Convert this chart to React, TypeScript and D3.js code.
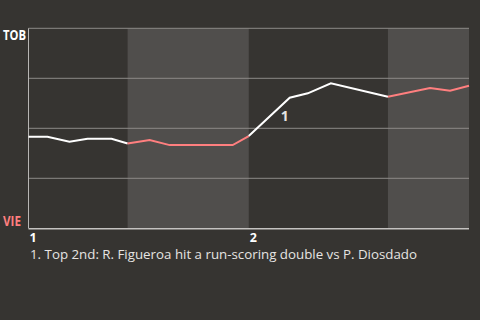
import React from "react";
import * as d3 from "d3";

const W = 480;
const H = 320;

// progress in innings (0 = start of 1st, 1 = start of 2nd)
const progress = [0, 0.086, 0.186, 0.268, 0.377, 0.45, 0.55, 0.641, 0.927, 1.0, 1.186, 1.268, 1.373, 1.632, 1.823, 1.914, 2.0];
// win probability for TOB
const winProb = [0.458, 0.458, 0.433, 0.448, 0.448, 0.424, 0.441, 0.416, 0.416, 0.461, 0.653, 0.675, 0.725, 0.658, 0.702, 0.688, 0.713];
// half-innings: "top" (TOB batting) or "bot" (VIE batting)
const halfStarts = [0, 0.45, 1.0, 1.632];
const halfEnds = [0.45, 1.0, 1.632, 2.0];
const halfSides = ["top", "bot", "top", "bot"];
const inningTicks = [0, 1];
const inningLabels = ["1", "2"];
const gridValues = [0.25, 0.5, 0.75, 1];
const teamTop = "TOB";
const teamBottom = "VIE";
const notePos = [1.145];
const noteVal = [0.535];
const noteLabels = ["1"];
const footnotes = ["1. Top 2nd: R. Figueroa hit a run-scoring double vs P. Diosdado"];

const BG = "#363431";
const SHADE = "#504e4c";
const PINK = "#ff7f7f";
const FONT = "'Open Sans', 'Noto Sans', sans-serif";

export default function App() {
  const left = 28.5;
  const right = 469;
  const top = 28.3;
  const bottom = 228.3;
  const x = d3.scaleLinear().domain([0, 2]).range([left, right]);
  const y = d3.scaleLinear().domain([0, 1]).range([bottom, top]);

  const pts = progress.map((p, i) => ({ p, v: winProb[i] }));
  const line = d3.line<{ p: number; v: number }>().x((d) => x(d.p)).y((d) => y(d.v));

  const segs = halfStarts.map((s, k) => {
    const e = halfEnds[k];
    const seg = pts.filter((d) => d.p >= s - 1e-9 && d.p <= e + 1e-9);
    return { side: halfSides[k], d: line(seg) || "", s, e };
  });

  return (
    <div style={{ position: "fixed", left: 0, top: 0, width: W, height: H, background: BG }}>
      <svg width={W} height={H} style={{ display: "block" }}>
        <rect x={0} y={0} width={W} height={H} fill={BG} />
        {segs
          .filter((s) => s.side === "bot")
          .map((s, i) => (
            <rect key={i} x={x(s.s)} y={top} width={x(s.e) - x(s.s)} height={bottom - top} fill={SHADE} />
          ))}
        {gridValues.map((g) => (
          <line key={g} x1={left} x2={right} y1={y(g)} y2={y(g)} stroke="#8c8a88" strokeWidth={1} />
        ))}
        <line x1={left} x2={left} y1={top} y2={bottom} stroke="#b8b6b4" strokeWidth={1} />
        <line x1={left} x2={right} y1={bottom + 0.5} y2={bottom + 0.5} stroke="#c4c2c0" strokeWidth={1.5} />
        {segs.map((s, i) => (
          <path key={i} d={s.d} fill="none" stroke={s.side === "top" ? "#ffffff" : PINK} strokeWidth={2} />
        ))}
        <text x={3} y={40} fill="#ffffff" fontFamily={FONT} fontWeight="bold" fontSize={13.5} textLength={23} lengthAdjust="spacingAndGlyphs">
          {teamTop}
        </text>
        <text x={3} y={226} fill={PINK} fontFamily={FONT} fontWeight="bold" fontSize={13.5} textLength={18} lengthAdjust="spacingAndGlyphs">
          {teamBottom}
        </text>
        {inningTicks.map((t, i) => (
          <text key={t} x={x(t) + 1} y={242} fill="#ffffff" fontFamily={FONT} fontWeight="bold" fontSize={12.5}>
            {inningLabels[i]}
          </text>
        ))}
        {notePos.map((p, i) => (
          <text key={i} x={x(p)} y={y(noteVal[i])} fill="#e6e4e2" fontFamily={FONT} fontWeight="bold" fontSize={14}>
            {noteLabels[i]}
          </text>
        ))}
        {footnotes.map((f, i) => (
          <text key={i} x={30} y={259 + i * 16} fill="#e6e4e2" fontFamily={FONT} fontSize={13} textLength={387} lengthAdjust="spacingAndGlyphs">
            {f}
          </text>
        ))}
      </svg>
    </div>
  );
}
